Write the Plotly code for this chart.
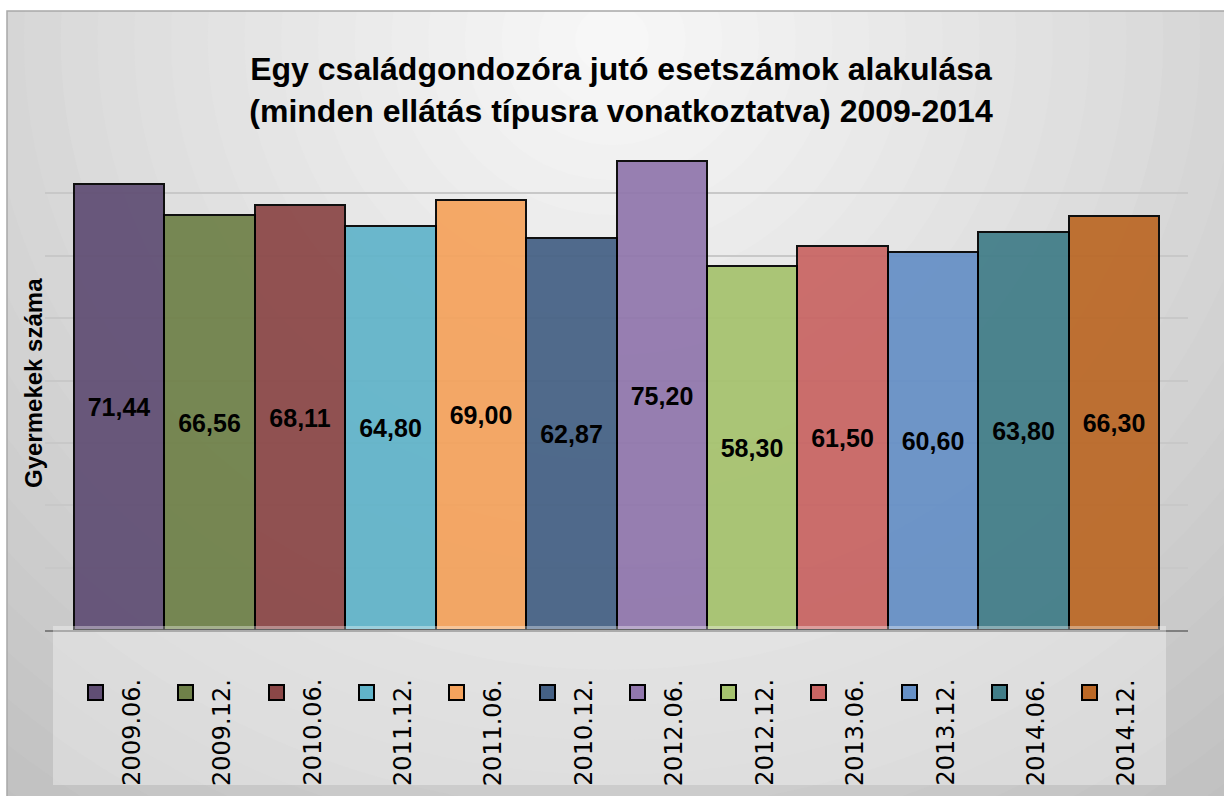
# Import Modules
import plotly.graph_objects as go

# Data
periods = ['2009.06.', '2009.12.', '2010.06.', '2011.12.', '2011.06.', '2010.12.',
           '2012.06.', '2012.12.', '2013.06.', '2013.12.', '2014.06.', '2014.12.']
values = [71.44, 66.56, 68.11, 64.80, 69.00, 62.87, 75.20, 58.30, 61.50, 60.60, 63.80, 66.30]
colors = ['#604e74', '#6f8149', '#8b4747', '#61b4ca', '#f5a35d', '#456185',
          '#9177ad', '#a6c36e', '#c96563', '#6690c6', '#417d88', '#bb6826']

title_text = 'Egy családgondozóra jutó esetszámok alakulása<br>(minden ellátás típusra vonatkoztatva) 2009-2014'
ytitle = 'Gyermekek száma'

W, H = 1224, 796
L, R, T, B = 45, 36, 131, 166
PW, PH = W - L - R, H - T - B


def px(x):
    return (x - L) / PW


def py(y):
    return (H - B - y) / PH


bold = 'Liberation Sans, Arial'

# Create trace
trace = go.Bar(x=periods, y=values,
               text=['{:.2f}'.format(v).replace('.', ',') for v in values],
               textposition='inside', insidetextanchor='middle', textangle=0,
               textfont=dict(color='#000000', size=25, family=bold, weight='bold'),
               marker=dict(color=colors, opacity=0.93,
                           line=dict(color='#000000', width=2)),
               showlegend=False, hoverinfo='skip')

# Background: radial-ish grey gradient
shapes = []
n = 30
for i in range(n):
    t = 1 - i / n
    r = 1050 * t
    c = int(250 - 62 * t)
    shapes.append(dict(type='circle', xref='paper', yref='paper', layer='below',
                       x0=px(612 - r * 1.05), x1=px(612 + r * 1.05),
                       y0=py(40 - r), y1=py(40 + r),
                       fillcolor='rgb({0},{0},{0})'.format(c), line=dict(width=0)))
# white margin at top/left and chart border
shapes.append(dict(type='rect', xref='paper', yref='paper', layer='below',
                   x0=px(-5), x1=px(W + 5), y0=py(11), y1=py(-5),
                   fillcolor='white', line=dict(width=0)))
shapes.append(dict(type='rect', xref='paper', yref='paper', layer='below',
                   x0=px(-5), x1=px(7), y0=py(H + 5), y1=py(-5),
                   fillcolor='white', line=dict(width=0)))
shapes.append(dict(type='rect', xref='paper', yref='paper', layer='below',
                   x0=px(7), x1=px(W + 5), y0=py(H + 5), y1=py(11),
                   fillcolor='rgba(0,0,0,0)', line=dict(color='#a8a8a8', width=1.5)))
# legend panel
shapes.append(dict(type='rect', xref='paper', yref='paper', layer='above',
                   x0=px(53), x1=px(1166), y0=py(785), y1=py(626),
                   fillcolor='rgba(255,255,255,0.35)', line=dict(width=0)))

# Legend drawn as rotated labels + coloured squares
annotations = []
for i, (p, c) in enumerate(zip(periods, colors)):
    annotations.append(dict(x=i, xref='x', xshift=-24, y=py(692), yref='paper',
                            xanchor='center', yanchor='middle',
                            text=' ', showarrow=False, width=13, height=13,
                            bgcolor=c, bordercolor='#000000', borderwidth=2, borderpad=0))
    annotations.append(dict(x=i, xref='x', xshift=12, y=py(677), yref='paper',
                            xanchor='center', yanchor='top', text=p, textangle=-90, showarrow=False,
                            font=dict(family='DejaVu Sans', size=24, color='#000000')))
annotations.append(dict(x=px(33), y=py(383), xref='paper', yref='paper', text=ytitle,
                        xanchor='center', yanchor='middle',
                        textangle=-90, showarrow=False,
                        font=dict(family=bold, size=24, color='#000000', weight='bold')))

# Create layout
layout = go.Layout(
    width=W, height=H,
    margin=dict(l=L, r=R, t=T, b=B),
    paper_bgcolor='white', plot_bgcolor='rgba(0,0,0,0)',
    title=dict(text=title_text, x=621 / W, xanchor='center', xref='container',
               y=1 - 80 / H, yanchor='middle', yref='container',
               font=dict(family=bold, size=32, color='#000000', weight='bold')),
    xaxis=dict(range=[-0.82, 11.82], showticklabels=False, showgrid=False,
               showline=True, linecolor='#7f7f7f', linewidth=1.5, ticks=''),
    yaxis=dict(range=[0, 80], dtick=10, showticklabels=False, showgrid=True,
               gridcolor='#c8c8c8', gridwidth=1.5, zeroline=False, ticks=''),
    bargap=0,
    shapes=shapes,
    annotations=annotations,
)

# Create plot
fig = go.Figure(data=[trace], layout=layout)
fig.write_html('out.html', config={'displayModeBar': False},
               post_script="document.body.style.margin='0';")
